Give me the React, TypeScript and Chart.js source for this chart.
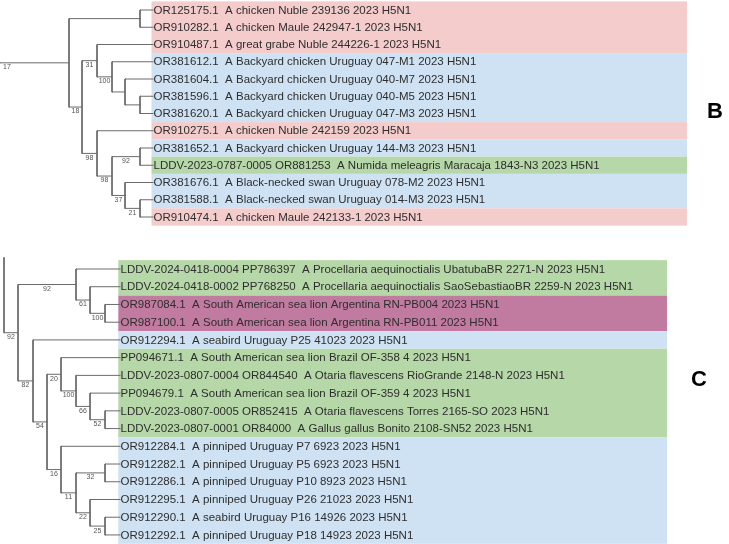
import React, { useEffect, useRef } from 'react';
import { Chart, registerables } from 'chart.js';

Chart.register(...registerables);

// ---------------- Panel B ----------------
const bLabels: string[] = [
  'OR125175.1  A chicken Nuble 239136 2023 H5N1',
  'OR910282.1  A chicken Maule 242947-1 2023 H5N1',
  'OR910487.1  A great grabe Nuble 244226-1 2023 H5N1',
  'OR381612.1  A Backyard chicken Uruguay 047-M1 2023 H5N1',
  'OR381604.1  A Backyard chicken Uruguay 040-M7 2023 H5N1',
  'OR381596.1  A Backyard chicken Uruguay 040-M5 2023 H5N1',
  'OR381620.1  A Backyard chicken Uruguay 047-M3 2023 H5N1',
  'OR910275.1  A chicken Nuble 242159 2023 H5N1',
  'OR381652.1  A Backyard chicken Uruguay 144-M3 2023 H5N1',
  'LDDV-2023-0787-0005 OR881253  A Numida meleagris Maracaja 1843-N3 2023 H5N1',
  'OR381676.1  A Black-necked swan Uruguay 078-M2 2023 H5N1',
  'OR381588.1  A Black-necked swan Uruguay 014-M3 2023 H5N1',
  'OR910474.1  A chicken Maule 242133-1 2023 H5N1',
];
const bGroups: string[] = [
  'chile', 'chile', 'chile', 'uruguay', 'uruguay', 'uruguay', 'uruguay',
  'chile', 'uruguay', 'brazil', 'uruguay', 'uruguay', 'chile',
];

// ---------------- Panel C ----------------
const cLabels: string[] = [
  'LDDV-2024-0418-0004 PP786397  A Procellaria aequinoctialis UbatubaBR 2271-N 2023 H5N1',
  'LDDV-2024-0418-0002 PP768250  A Procellaria aequinoctialis SaoSebastiaoBR 2259-N 2023 H5N1',
  'OR987084.1  A South American sea lion Argentina RN-PB004 2023 H5N1',
  'OR987100.1  A South American sea lion Argentina RN-PB011 2023 H5N1',
  'OR912294.1  A seabird Uruguay P25 41023 2023 H5N1',
  'PP094671.1  A South American sea lion Brazil OF-358 4 2023 H5N1',
  'LDDV-2023-0807-0004 OR844540  A Otaria flavescens RioGrande 2148-N 2023 H5N1',
  'PP094679.1  A South American sea lion Brazil OF-359 4 2023 H5N1',
  'LDDV-2023-0807-0005 OR852415  A Otaria flavescens Torres 2165-SO 2023 H5N1',
  'LDDV-2023-0807-0001 OR84000  A Gallus gallus Bonito 2108-SN52 2023 H5N1',
  'OR912284.1  A pinniped Uruguay P7 6923 2023 H5N1',
  'OR912282.1  A pinniped Uruguay P5 6923 2023 H5N1',
  'OR912286.1  A pinniped Uruguay P10 8923 2023 H5N1',
  'OR912295.1  A pinniped Uruguay P26 21023 2023 H5N1',
  'OR912290.1  A seabird Uruguay P16 14926 2023 H5N1',
  'OR912292.1  A pinniped Uruguay P18 14923 2023 H5N1',
];
const cGroups: string[] = [
  'brazil', 'brazil', 'argentina', 'argentina', 'uruguay', 'brazil', 'brazil', 'brazil',
  'brazil', 'brazil', 'uruguay', 'uruguay', 'uruguay', 'uruguay', 'uruguay', 'uruguay',
];

const groupColors: Record<string, string> = {
  chile: '#F4CCCC',
  uruguay: '#CFE2F3',
  brazil: '#B6D7A8',
  argentina: '#C27BA0',
};

const panelTags: string[] = ['B', 'C'];

// Tree topology: node depth (x), bootstrap support, children (leaf row index or node)
type TNode = { x: number; s: string; c: (number | TNode)[] };
const n = (x: number, s: string, c: (number | TNode)[]): TNode => ({ x, s, c });

const bTree: TNode = n(69, '', [
  n(140, '', [0, 1]),
  n(82, '18', [
    n(97, '31', [2, n(112, '100', [3, n(125, '', [4, n(140, '', [5, 6])])])]),
    n(97, '98', [
      7,
      n(112, '98', [
        n(140, '92', [8, 9]),
        n(125, '37', [10, n(140, '21', [11, 12])]),
      ]),
    ]),
  ]),
]);

const cTree: TNode = n(18, '92', [
  n(76, '92', [0, n(90, '61', [1, n(105, '100', [2, 3])])]),
  n(33, '82', [
    4,
    n(47, '54', [
      n(61, '20', [5, n(76, '100', [6, n(90, '66', [7, n(105, '52', [8, 9])])])]),
      n(61, '16', [
        10,
        n(76, '11', [n(105, '32', [11, 12]), n(90, '22', [13, n(105, '25', [14, 15])])]),
      ]),
    ]),
  ]),
]);

// Panel layouts
const panels = [
  {
    tag: panelTags[0], labels: bLabels, groups: bGroups, tree: bTree,
    rowTop: 10, rowStep: 17.25, tipX: 153, bandLeft: 151.5, bandRight: 687,
    stemX: 0, stemLabel: '17', stemLabelX: 7, stubRow: null as number | null,
    tagX: 715, tagY: 112,
  },
  {
    tag: panelTags[1], labels: cLabels, groups: cGroups, tree: cTree,
    rowTop: 269, rowStep: 17.73, tipX: 120, bandLeft: 118.3, bandRight: 667,
    stemX: 4, stemLabel: '92', stemLabelX: null as number | null, stubRow: -0.65,
    tagX: 699, tagY: 380,
  },
];

type Seg = [number, number, number, number];
type Mark = { x: number; y: number; s: string };

function walk(node: TNode, rowY: (i: number) => number, tipX: number, segs: Seg[], marks: Mark[]): number {
  const ys = node.c.map((ch) => {
    if (typeof ch === 'number') {
      const y = rowY(ch);
      segs.push([node.x, y, tipX, y]);
      return y;
    }
    const y = walk(ch, rowY, tipX, segs, marks);
    segs.push([node.x, y, ch.x, y]);
    if (ch.s) marks.push({ x: (node.x + ch.x) / 2, y, s: ch.s });
    return y;
  });
  const y0 = ys[0];
  const y1 = ys[ys.length - 1];
  segs.push([node.x, y0, node.x, y1]);
  return (y0 + y1) / 2;
}

const built = panels.map((p) => {
  const rowY = (i: number) => p.rowTop + i * p.rowStep;
  const segs: Seg[] = [];
  const marks: Mark[] = [];
  const rootY = walk(p.tree, rowY, p.tipX, segs, marks);
  segs.push([p.stemX, rootY, p.tree.x, rootY]);
  if (p.stubRow !== null) segs.push([p.stemX, rowY(p.stubRow), p.stemX, rootY]);
  marks.push({
    x: p.stemLabelX !== null ? p.stemLabelX : (p.stemX + p.tree.x) / 2,
    y: rootY,
    s: p.stemLabel,
  });
  return { p, rowY, segs, marks };
});

const W = 729;
const H = 544;

export default function App() {
  const ref = useRef<HTMLCanvasElement | null>(null);

  useEffect(() => {
    if (!ref.current) return;

    const datasets = built.map((b) => {
      const data: { x: number; y: number | null }[] = [];
      b.segs.forEach(([x1, y1, x2, y2]) => {
        data.push({ x: x1, y: y1 }, { x: x2, y: y2 }, { x: x2, y: null });
      });
      return {
        data,
        showLine: true,
        spanGaps: false,
        borderColor: '#6b6b6b',
        borderWidth: 1,
        borderCapStyle: 'square' as const,
        pointRadius: 0,
        pointHoverRadius: 0,
        tension: 0,
        clip: false as const,
      };
    });

    const bandsPlugin = {
      id: 'bands',
      beforeDatasetsDraw(chart: any) {
        const { ctx, scales } = chart;
        const xs = scales.x;
        const ys = scales.y;
        ctx.save();
        built.forEach((b) => {
          const p = b.p;
          let i = 0;
          while (i < p.groups.length) {
            let j = i;
            while (j + 1 < p.groups.length && p.groups[j + 1] === p.groups[i]) j++;
            const top = ys.getPixelForValue(b.rowY(i) - p.rowStep / 2);
            const bot = ys.getPixelForValue(b.rowY(j) + p.rowStep / 2);
            const l = xs.getPixelForValue(p.bandLeft);
            const r = xs.getPixelForValue(p.bandRight);
            ctx.fillStyle = groupColors[p.groups[i]];
            ctx.fillRect(l, top, r - l, bot - top);
            i = j + 1;
          }
        });
        ctx.restore();
      },
    };

    const textPlugin = {
      id: 'texts',
      afterDatasetsDraw(chart: any) {
        const { ctx, scales } = chart;
        const xs = scales.x;
        const ys = scales.y;
        ctx.save();
        built.forEach((b) => {
          const p = b.p;
          ctx.font = '11.5px "Liberation Sans", Arial, sans-serif';
          ctx.fillStyle = '#2e2e2e';
          ctx.textAlign = 'left';
          ctx.textBaseline = 'middle';
          p.labels.forEach((lab, i) => {
            ctx.fillText(lab, xs.getPixelForValue(p.tipX + 0.5), ys.getPixelForValue(b.rowY(i)) + 0.5);
          });
          ctx.font = '7px "Liberation Sans", Arial, sans-serif';
          ctx.fillStyle = '#555555';
          ctx.textAlign = 'center';
          ctx.textBaseline = 'top';
          b.marks.forEach((m) => {
            ctx.fillText(m.s, xs.getPixelForValue(m.x), ys.getPixelForValue(m.y) + 1);
          });
          ctx.font = 'bold 22px "Liberation Sans", Arial, sans-serif';
          ctx.fillStyle = '#000000';
          ctx.textAlign = 'center';
          ctx.textBaseline = 'middle';
          ctx.fillText(p.tag, xs.getPixelForValue(p.tagX), ys.getPixelForValue(p.tagY));
        });
        ctx.restore();
      },
    };

    const chart = new Chart(ref.current, {
      type: 'scatter',
      data: { datasets: datasets as any },
      options: {
        animation: false,
        responsive: false,
        maintainAspectRatio: false,
        devicePixelRatio: 1,
        layout: { padding: 0 },
        events: [],
        plugins: {
          legend: { display: false },
          tooltip: { enabled: false },
          title: { display: false },
        },
        scales: {
          x: { type: 'linear', min: 0, max: W, display: false },
          y: { type: 'linear', min: 0, max: H, reverse: true, display: false },
        },
      },
      plugins: [bandsPlugin, textPlugin],
    });

    return () => chart.destroy();
  }, []);

  return (
    <div style={{ position: 'fixed', left: 0, top: 0, width: W, height: H, background: '#ffffff' }}>
      <canvas ref={ref} width={W} height={H} style={{ display: 'block', width: W, height: H }} />
    </div>
  );
}
